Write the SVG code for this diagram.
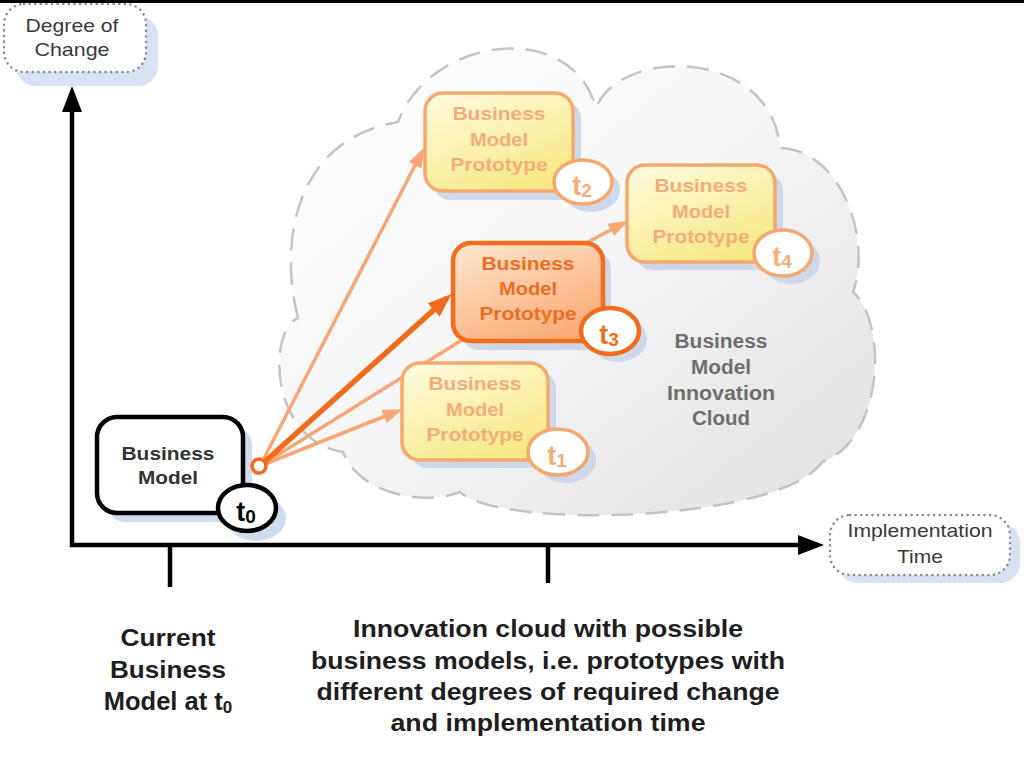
<svg xmlns="http://www.w3.org/2000/svg" width="1024" height="768" viewBox="0 0 1024 768">
<defs>
<linearGradient id="cloudG" x1="0" y1="0" x2="1" y2="1">
<stop offset="0" stop-color="#ffffff"/>
<stop offset="0.45" stop-color="#f7f7f7"/>
<stop offset="1" stop-color="#e0e0e0"/>
</linearGradient>
<linearGradient id="protoG" x1="0" y1="0" x2="0.6" y2="1">
<stop offset="0" stop-color="#fffbe0"/>
<stop offset="1" stop-color="#f7e987"/>
</linearGradient>
<linearGradient id="activeG" x1="0" y1="0" x2="0.6" y2="1">
<stop offset="0" stop-color="#fee8d2"/>
<stop offset="1" stop-color="#f9ad78"/>
</linearGradient>
<marker id="arrLight" markerUnits="userSpaceOnUse" markerWidth="20" markerHeight="14" refX="15" refY="7" orient="auto">
<path d="M0,0 L20,7 L0,14 z" fill="#f7a676"/>
</marker>
<marker id="arrHeavy" markerUnits="userSpaceOnUse" markerWidth="24" markerHeight="18" refX="18" refY="9" orient="auto">
<path d="M0,0 L24,9 L0,18 z" fill="#f26b1d"/>
</marker>
<marker id="arrBlack" markerUnits="userSpaceOnUse" markerWidth="26" markerHeight="20" refX="20" refY="10" orient="auto">
<path d="M0,0 L26,10 L0,20 z" fill="#000"/>
</marker>
</defs>
<style>
.lbl{font-family:"Liberation Sans",Arial,sans-serif;font-size:19px;fill:#3a3a3a;text-anchor:middle}
.b{font-family:"Liberation Sans",Arial,sans-serif;font-weight:bold;text-anchor:middle}
.dot{fill:#fff;stroke:#8a8a8a;stroke-width:2.5;stroke-dasharray:0.1 5.5;stroke-linecap:round}
.shadow{fill:#cddcef}
.pshadow{fill:#cfd8ea}
.proto{fill:url(#protoG);stroke:#f6a86c;stroke-width:3.5}
.active{fill:url(#activeG);stroke:#f26c1c;stroke-width:4.5}
.badgeL{fill:#fff;stroke:#f6a86c;stroke-width:3.5}
.badgeA{fill:#fff;stroke:#f26c1c;stroke-width:4.5}
.tL{fill:#f5ad78;font-size:19px}
.tA{fill:#ef6d22;font-size:19px}
.tb{font-size:27px}
.sub{font-size:19px}
.ln{fill:none;stroke:#f7a676;stroke-width:3.5}
.bot{fill:#1e1e1e;font-size:24px}
</style>
<rect x="0" y="0" width="1024" height="768" fill="#fff"/>
<rect x="0" y="0" width="1024" height="3" fill="#000"/>

<g id="cloud">
<path d="M298,318 C280,250 290,140 398,122 C430,36 572,18 596,108 C620,46 772,48 780,148 C842,150 872,240 853,292 C888,322 884,440 822,462 C782,522 500,530 460,492 C420,507 358,492 343,452 C268,440 268,330 298,318 Z" fill="url(#cloudG)" stroke="#c4c4c4" stroke-width="2.5" stroke-dasharray="22 12"/>
<text class="b" fill="#6e6e6e" font-size="20" x="721" y="348" textLength="93" lengthAdjust="spacingAndGlyphs">Business</text>
<text class="b" fill="#6e6e6e" font-size="20" x="721" y="374" textLength="60" lengthAdjust="spacingAndGlyphs">Model</text>
<text class="b" fill="#6e6e6e" font-size="20" x="721" y="400" textLength="108" lengthAdjust="spacingAndGlyphs">Innovation</text>
<text class="b" fill="#6e6e6e" font-size="20" x="721" y="425" textLength="58" lengthAdjust="spacingAndGlyphs">Cloud</text>
</g>

<g id="axes">
<line x1="72" y1="547" x2="72" y2="92" stroke="#000" stroke-width="4.5" marker-end="url(#arrBlack)"/>
<line x1="70" y1="545" x2="818" y2="545" stroke="#000" stroke-width="4.5" marker-end="url(#arrBlack)"/>
<line x1="170" y1="545" x2="170" y2="587" stroke="#000" stroke-width="4.5"/>
<line x1="548" y1="545" x2="548" y2="583" stroke="#000" stroke-width="4.5"/>
</g>

<g id="label-degree">
<rect class="shadow" x="16" y="16" width="142" height="70" rx="20" opacity="0.8"/>
<rect class="dot" x="4" y="4" width="142" height="68" rx="20"/>
<text class="lbl" x="72" y="32" textLength="93" lengthAdjust="spacingAndGlyphs">Degree of</text>
<text class="lbl" x="72" y="56" textLength="75" lengthAdjust="spacingAndGlyphs">Change</text>
</g>

<g id="label-time">
<rect class="shadow" x="838" y="523" width="182" height="60" rx="20" opacity="0.8"/>
<rect class="dot" x="830" y="515" width="180" height="60" rx="20"/>
<text class="lbl" x="920" y="537" textLength="145" lengthAdjust="spacingAndGlyphs">Implementation</text>
<text class="lbl" x="920" y="563" textLength="46" lengthAdjust="spacingAndGlyphs">Time</text>
</g>

<g id="shadows">
<rect class="shadow" x="106" y="426" width="146" height="96" rx="20"/>
<ellipse class="shadow" cx="256" cy="518" rx="30" ry="23"/>
<rect class="pshadow" x="433" y="101" width="148" height="99" rx="18"/>
<ellipse class="pshadow" cx="591" cy="190" rx="29" ry="22"/>
<rect class="pshadow" x="635" y="173" width="148" height="97" rx="18"/>
<ellipse class="pshadow" cx="791" cy="261" rx="29" ry="23"/>
<rect class="pshadow" x="461" y="251" width="150" height="99" rx="18"/>
<ellipse class="pshadow" cx="618" cy="339" rx="29" ry="23"/>
<rect class="pshadow" x="410" y="371" width="146" height="97" rx="18"/>
<ellipse class="pshadow" cx="566" cy="460" rx="30" ry="23"/>
</g>

<g id="connectors">
<line class="ln" x1="260" y1="466" x2="470" y2="335"/>
<line class="ln" x1="260" y1="466" x2="422" y2="152" marker-end="url(#arrLight)"/>
<line class="ln" x1="260" y1="466" x2="398" y2="411" marker-end="url(#arrLight)"/>
<line class="ln" x1="588" y1="242" x2="624" y2="223" marker-end="url(#arrLight)"/>
<line x1="260" y1="466" x2="447" y2="298" fill="none" stroke="#f26b1d" stroke-width="5.5" marker-end="url(#arrHeavy)"/>
</g>

<g id="current-model">
<rect x="97" y="417" width="146" height="96" rx="20" fill="#fff" stroke="#000" stroke-width="4.5"/>
<text class="b" fill="#333" font-size="19" x="168" y="460" textLength="93" lengthAdjust="spacingAndGlyphs">Business</text>
<text class="b" fill="#333" font-size="19" x="168" y="484" textLength="60" lengthAdjust="spacingAndGlyphs">Model</text>
</g>
<g id="badge-t0">
<ellipse cx="247" cy="508" rx="29" ry="23" fill="#fff" stroke="#000" stroke-width="4.5"/>
<text class="b tb" fill="#000" x="246" y="521">t<tspan class="sub" dy="2">0</tspan></text>
</g>
<g id="origin">
<circle cx="259" cy="466" r="7" fill="#fff" stroke="#f26b1d" stroke-width="3.5"/>
</g>

<g id="proto-t2">
<rect class="proto" x="425" y="93" width="148" height="98" rx="18"/>
<text class="b tL" x="499" y="120" textLength="93" lengthAdjust="spacingAndGlyphs">Business</text>
<text class="b tL" x="499" y="146" textLength="58" lengthAdjust="spacingAndGlyphs">Model</text>
<text class="b tL" x="499" y="171" textLength="97" lengthAdjust="spacingAndGlyphs">Prototype</text>
</g>
<g id="badge-t2">
<ellipse class="badgeL" cx="583" cy="182" rx="29" ry="22"/>
<text class="b tL tb" x="582" y="195">t<tspan class="sub" dy="2">2</tspan></text>
</g>

<g id="proto-t4">
<rect class="proto" x="627" y="165" width="148" height="97" rx="18"/>
<text class="b tL" x="701" y="192" textLength="93" lengthAdjust="spacingAndGlyphs">Business</text>
<text class="b tL" x="701" y="218" textLength="58" lengthAdjust="spacingAndGlyphs">Model</text>
<text class="b tL" x="701" y="243" textLength="97" lengthAdjust="spacingAndGlyphs">Prototype</text>
</g>
<g id="badge-t4">
<ellipse class="badgeL" cx="783" cy="253" rx="29" ry="23"/>
<text class="b tL tb" x="782" y="266">t<tspan class="sub" dy="2">4</tspan></text>
</g>

<g id="proto-t3">
<rect class="active" x="453" y="243" width="150" height="98" rx="18"/>
<text class="b tA" x="528" y="270" textLength="93" lengthAdjust="spacingAndGlyphs">Business</text>
<text class="b tA" x="528" y="295" textLength="58" lengthAdjust="spacingAndGlyphs">Model</text>
<text class="b tA" x="528" y="320" textLength="97" lengthAdjust="spacingAndGlyphs">Prototype</text>
</g>
<g id="badge-t3">
<ellipse class="badgeA" cx="610" cy="331" rx="29" ry="23"/>
<text class="b tA tb" x="609" y="344">t<tspan class="sub" dy="2">3</tspan></text>
</g>

<g id="proto-t1">
<rect class="proto" x="402" y="363" width="146" height="97" rx="18"/>
<text class="b tL" x="475" y="390" textLength="93" lengthAdjust="spacingAndGlyphs">Business</text>
<text class="b tL" x="475" y="416" textLength="58" lengthAdjust="spacingAndGlyphs">Model</text>
<text class="b tL" x="475" y="441" textLength="97" lengthAdjust="spacingAndGlyphs">Prototype</text>
</g>
<g id="badge-t1">
<ellipse class="badgeL" cx="558" cy="452" rx="30" ry="23"/>
<text class="b tL tb" x="557" y="465">t<tspan class="sub" dy="2">1</tspan></text>
</g>

<g id="caption-current">
<text class="b bot" x="168" y="646" textLength="95" lengthAdjust="spacingAndGlyphs">Current</text>
<text class="b bot" x="168" y="678" textLength="116" lengthAdjust="spacingAndGlyphs">Business</text>
<text class="b bot" x="168" y="710" style="font-size:25.5px">Model at t<tspan style="font-size:17px" dy="3">0</tspan></text>
</g>
<g id="caption-cloud">
<text class="b bot" x="548" y="637" textLength="390" lengthAdjust="spacingAndGlyphs">Innovation cloud with possible</text>
<text class="b bot" x="548" y="669" textLength="474" lengthAdjust="spacingAndGlyphs">business models, i.e. prototypes with</text>
<text class="b bot" x="548" y="700" textLength="463" lengthAdjust="spacingAndGlyphs">different degrees of required change</text>
<text class="b bot" x="548" y="731" textLength="315" lengthAdjust="spacingAndGlyphs">and implementation time</text>
</g>
</svg>
